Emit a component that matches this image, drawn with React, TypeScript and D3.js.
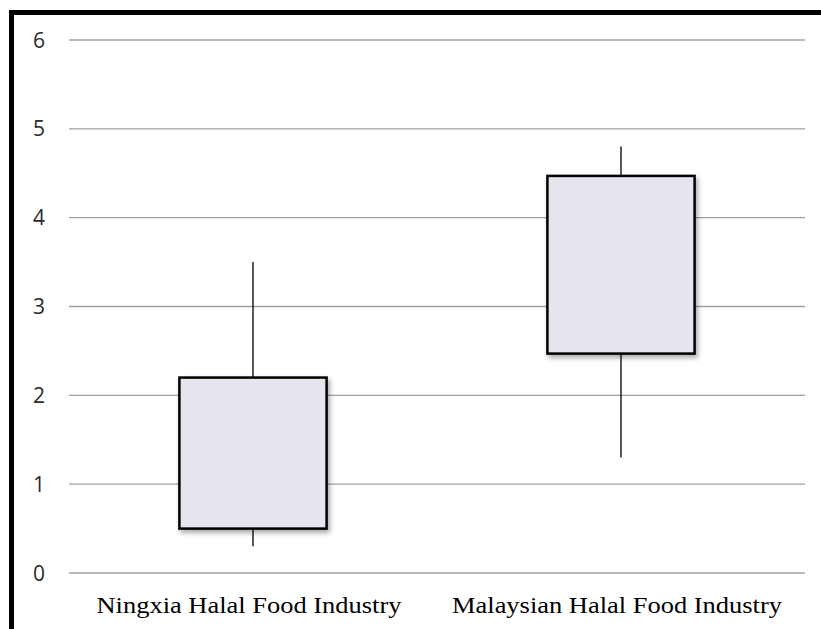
import React from "react";
import * as d3 from "d3";

const categories = ["Ningxia Halal Food Industry", "Malaysian Halal Food Industry"];
const lowValues = [0.3, 1.3];
const q1Values = [0.5, 2.47];
const q3Values = [2.2, 4.47];
const highValues = [3.5, 4.8];
const yTicks = [0, 1, 2, 3, 4, 5, 6];
const labelWidths = [305, 330];

const W = 821;
const H = 629;

export default function App() {
  const x = d3.scaleBand().domain(categories).range([69, 805]).paddingInner(0).paddingOuter(0);
  const y = d3.scaleLinear().domain([0, 6]).range([573, 40]);
  const boxW = x.bandwidth() * 0.4;

  return (
    <svg
      width={W}
      height={H}
      style={{ position: "absolute", left: 0, top: 0, background: "#fff" }}
    >
      <defs>
        <filter id="shadow" x="-10%" y="-10%" width="130%" height="130%">
          <feDropShadow dx="2" dy="3" stdDeviation="2.5" floodColor="#000" floodOpacity="0.35" />
        </filter>
      </defs>
      {/* frame */}
      <line x1={11.5} y1={12} x2={11.5} y2={H} stroke="#000" strokeWidth={5} />
      <line x1={9} y1={12.5} x2={W} y2={12.5} stroke="#000" strokeWidth={5} />

      {yTicks.map((t) => (
        <g key={t}>
          <line x1={69} x2={805} y1={y(t)} y2={y(t)} stroke="#a0a0a0" strokeWidth={1.3} />
          <text
            x={39}
            y={y(t)}
            dy="0.36em"
            textAnchor="middle"
            fontFamily="'Open Sans', sans-serif"
            fontSize={21}
            fill="#2a2a2a"
          >
            {t}
          </text>
        </g>
      ))}

      {categories.map((c, i) => {
        const cx = x(c)! + x.bandwidth() / 2;
        return (
          <g key={c}>
            <line x1={cx} x2={cx} y1={y(highValues[i])} y2={y(q3Values[i])} stroke="#000" strokeWidth={1.3} />
            <line x1={cx} x2={cx} y1={y(q1Values[i])} y2={y(lowValues[i])} stroke="#000" strokeWidth={1.3} />
            <rect
              x={cx - boxW / 2}
              y={y(q3Values[i])}
              width={boxW}
              height={y(q1Values[i]) - y(q3Values[i])}
              fill="#e6e4ec"
              stroke="#000"
              strokeWidth={2.5}
              filter="url(#shadow)"
            />
            <text
              x={cx - 4}
              y={613}
              textAnchor="middle"
              fontFamily="'Liberation Serif', serif"
              fontSize={24}
              textLength={labelWidths[i]}
              lengthAdjust="spacingAndGlyphs"
              fill="#000"
            >
              {c}
            </text>
          </g>
        );
      })}
    </svg>
  );
}
